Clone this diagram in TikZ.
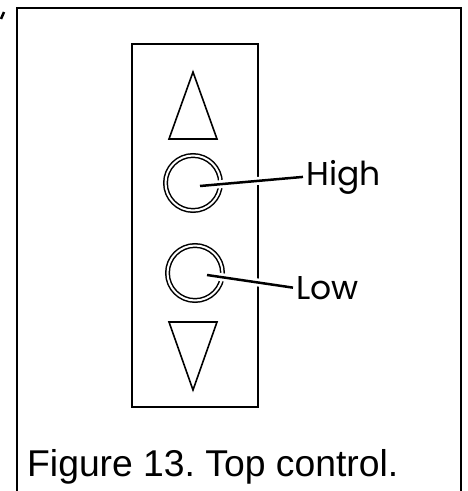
\documentclass[tikz,border=0pt]{standalone}
\usepackage{fontspec}
\setmainfont{Liberation Sans}
\newfontfamily\labelfont{Poppins}
\usepackage{tikz}
\usetikzlibrary{positioning}
\frenchspacing

\begin{document}
\begin{tikzpicture}[x=1pt, y=-1pt,
        frame/.style={draw, line width=2.6pt},
        panel/.style={draw, line width=1.5pt},
        arrowkey/.style={draw, line width=1.6pt, line join=miter},
        btn/.style={circle, draw, double, line width=1.5pt, double distance=2pt, minimum size=55pt, inner sep=0pt},
        lbl/.style={font=\labelfont\fontsize{33}{33}\selectfont, inner sep=3pt},
        leader/.style={line width=2.5pt, preaction={draw=white, line width=8pt}}]
        \useasboundingbox (0,0) rectangle (467,491);

        % outer frame, open at the bottom
        \draw[frame] (17,491) -- (17,8) -- (461,8) -- (461,491);
        \draw[line width=2.5pt] (1,19) -- (4,12);

        % control panel
        \node[panel, minimum width=126pt, minimum height=363pt, inner sep=0pt] (panel) at (195,225.5) {};
        \draw[arrowkey] (193,72) -- (217,139) -- (169,139) -- cycle;
        \draw[arrowkey] (193,390) -- (169,322) -- (217,322) -- cycle;

        \node[btn] (highbtn) at (193,183) {};
        \node[btn] (lowbtn) at (195,273) {};

        \node[lbl, anchor=base west] (highlbl) at (303,185) {High};
        \node[lbl, anchor=base west] (lowlbl) at (293,299) {Low};

        \draw[leader] ([shift={(7,3)}]highbtn.center) -- (highlbl.west);
        \draw[leader] ([shift={(12,2)}]lowbtn.center) -- (lowlbl.west);

        \node[anchor=base west, inner sep=0pt, font=\fontsize{37.3}{37.3}\selectfont] (caption) at (27,476) {Figure 13. Top control.};
\end{tikzpicture}
\end{document}
